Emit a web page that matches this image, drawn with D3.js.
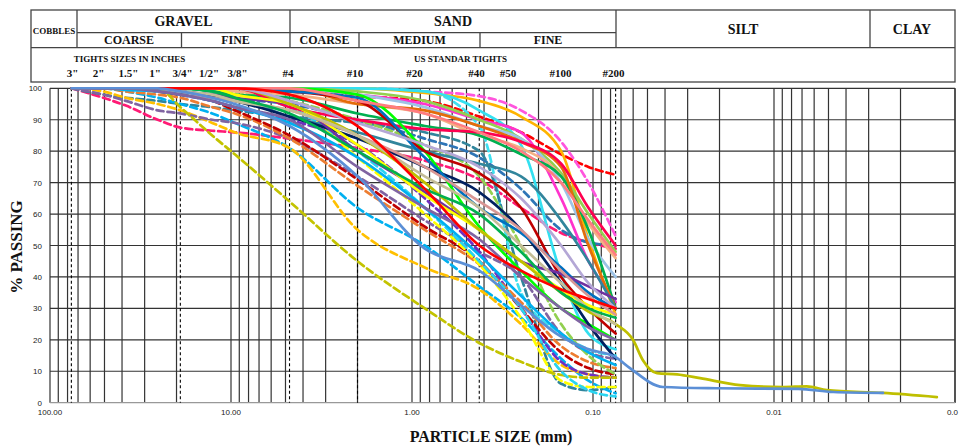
<!DOCTYPE html>
<html>
<head>
<meta charset="utf-8">
<script src="https://cdn.jsdelivr.net/npm/d3@7"></script>
<style>
  body { margin: 0; background: #fff; }
  svg { display: block; }
  .hdr { font-family: "Liberation Serif", "Times New Roman", serif; font-weight: bold; fill: #111; }
  .tick { font-family: "Liberation Sans", Arial, sans-serif; font-size: 8px; fill: #222; }
</style>
</head>
<body>
<svg id="chart" width="959" height="447"></svg>
<script>
// sieve sizes (mm) used for every curve
var sieveSizes = [76.2, 50.8, 38.1, 25.4, 19.05, 12.7, 9.525, 4.75, 2.0, 0.85, 0.425, 0.25, 0.15, 0.106, 0.075];

// % passing for each sample, same order as sieveSizes
var seriesPassing = [
  [100, 97, 94.5, 90, 87.5, 86.5, 86, 84, 81, 77, 71, 62, 54, 51, 49],
  [100, 100, 100, 100, 100, 100, 100, 99, 97.5, 96, 91, 86, 79, 75, 72.5],
  [100, 100, 100, 100, 100, 100, 100, 100, 100, 99, 97.5, 93, 83, 70, 53],
  [100, 100, 100, 100, 100, 100, 100, 100, 100, 99, 88, 35, 22, 17, 15],
  [100, 100, 100, 99, 98, 97, 96.5, 95, 90, 84, 78, 68, 55, 51, 50],
  [100, 98, 97, 96, 95, 94, 93, 91, 89, 86, 80, 40, 6, 4, 5],
  [100, 100, 99, 97, 95, 92, 89, 81, 62, 50, 37, 27, 14, 7, 3],
  [100, 99, 97, 95, 93, 89, 86, 81, 55, 43, 36, 25, 12, 9, 8],
  [100, 98, 96, 93, 92, 90, 89, 84, 72, 58, 48, 40, 22, 16, 14],
  [100, 100, 100, 100, 98, 96, 94, 90, 82, 65, 48, 30, 13, 9, 8],
  [100, 100, 99, 98, 97, 94, 92, 84, 69, 55, 44, 32, 18, 13, 11],
  [100, 100, 100, 99, 98, 96, 93, 85, 71, 56, 45, 30, 16, 11, 9],
  [100, 100, 100, 100, 100, 99, 98, 95, 78, 60, 44, 27, 7, 5, 5],
  [100, 100, 100, 100, 100, 100, 99, 96, 90, 82, 72, 50, 25, 15, 9],
  [100, 100, 100, 100, 94, 85, 79, 64, 45, 30, 19, 13, 8.8, 8, 8],
  [100, 100, 100, 100, 100, 99, 98, 94, 80, 62, 45, 30, 10, 4, 2],
  [100, 100, 100, 100, 100, 100, 100, 100, 100, 98.5, 96, 91, 80, 52, 28],
  [100, 100, 100, 100, 100, 100, 100, 100, 100, 99, 93, 82, 41, 22, 17],
  [100, 100, 100, 100, 100, 100, 100, 100, 98, 95, 90, 86, 65, 45, 32],
  [100, 100, 100, 100, 100, 100, 100, 100, 99, 96, 90, 84, 73, 60, 48],
  [100, 100, 100, 100, 100, 100, 100, 100, 98, 94, 88, 84, 70, 52, 40],
  [100, 100, 100, 100, 100, 100, 99, 98, 95, 92, 85, 81, 72, 57, 46],
  [100, 100, 100, 100, 100, 99, 98, 97, 92, 88, 85, 79, 72, 55, 30],
  [100, 100, 100, 100, 100, 100, 100, 100, 95, 93, 88, 83, 75, 50, 30],
  [100, 100, 100, 100, 100, 100, 100, 94, 90, 87, 86, 83, 76, 62, 50],
  [100, 100, 100, 100, 99, 98, 97, 91, 86, 80, 76, 72, 58, 45, 30],
  [100, 100, 100, 100, 100, 100, 100, 100, 98, 80, 56, 42, 30, 25, 20],
  [100, 100, 100, 100, 100, 100, 100, 99, 96, 80, 73, 62, 40, 30, 22],
  [100, 100, 100, 100, 99, 97.5, 96, 91, 84, 75, 67, 55, 38, 25, 14],
  [100, 100, 100, 100, 100, 100, 100, 99, 97, 78, 62, 54, 43, 35, 30],
  [100, 100, 99.5, 99, 98, 96, 94, 89, 78, 62, 47, 34, 22, 16, 12],
  [100, 100, 100, 100, 99, 98, 97, 95, 80, 67, 55, 45, 41, 37, 33],
  [100, 100, 100, 99, 98, 96, 94, 90, 75, 62, 52, 40, 30, 24, 20],
  [100, 100, 100, 100, 100, 100, 98, 95, 82, 66, 55, 45, 36, 31, 28],
  [100, 100, 100, 100, 100, 100, 100, 95, 85, 70, 55, 45, 35, 29, 25],
  [100, 100, 100, 100, 99, 97, 96, 93, 85, 75, 64, 55, 42, 34, 28],
  [100, 100, 100, 100, 100, 100, 100, 100, 96, 92, 86, 80, 70, 58, 47],
  [100, 100, 100, 100, 100, 100, 100, 96, 89, 82, 75, 65, 50, 38, 30],
  [100, 100, 100, 100, 99, 98, 96, 93, 85, 72, 62, 50, 38, 30, 25],
  [100, 100, 100, 100, 100, 99, 97, 92, 80, 68, 60, 48, 35, 30, 27],
  [100, 100, 100, 100, 100, 100, 100, 98, 88, 68, 50, 42, 36, 33, 30],
  [100, 100, 100, 100, 99, 97, 95, 88, 72, 49, 42, 31, 21, 17, 14.5]
];

var seriesColors = [
  "#ff1a75", "#ff0000", "#ff55dd", "#3ee0f0", "#2e75b6", "#31859c", "#00b0f0", "#ffc000",
  "#8064a2", "#7030c0", "#ed7d31", "#c00000", "#ffff00", "#92d050", "#c3c300", "#2ad4f0",
  "#ffb400", "#33e0f0", "#ff33cc", "#92d050", "#9dc3e6", "#f4b183", "#00b050", "#e46c0a",
  "#ff0050", "#31859c", "#00ff00", "#c00000", "#002060", "#0070c0", "#00b0f0", "#7030a0",
  "#8064a2", "#ffff00", "#bfbf00", "#d99694", "#ff7c80", "#b4a7d6", "#c4bd97", "#00b050",
  "#ff0000", "#5b8fd6"
];

// true = dashed sample curve
var seriesDashed = [
  true, true, true, true, true, true, true, true,
  true, true, true, true, true, true, true, true,
  false, false, false, false, false, false, false, false,
  false, false, false, false, false, false, false, false,
  false, false, false, false, false, false, false, false,
  false, false
];

// hydrometer readings continuing two of the samples
var oliveHydroSizes = [0.0601, 0.0530, 0.0443, 0.0343, 0.0256, 0.0154, 0.0089, 0.0066, 0.0051, 0.0025, 0.00126];
var oliveHydroPass = [20, 13.5, 9.4, 9, 7.8, 5.6, 5, 5.2, 4, 3.1, 1.8];
var blueHydroSizes = [0.0625, 0.0411, 0.0208, 0.0073, 0.0047, 0.0025];
var blueHydroPass = [11, 5, 4.6, 4.4, 3.4, 3.1];

var yTicks = [0, 10, 20, 30, 40, 50, 60, 70, 80, 90, 100];
var xTickValues = [100, 10, 1, 0.1, 0.01, 0.001];
var xTickLabels = ["100.00", "10.00", "1.00", "0.10", "0.01", "0.0"];

// reference sieves drawn as dashed verticals
var refSieves = [76.2, 19.05, 4.75, 2.0, 0.425, 0.075];

var svg = d3.select("#chart");

var x = d3.scaleLog().domain([100, 0.001]).range([50, 955]);
var y = d3.scaleLinear().domain([0, 100]).range([402.7, 88.3]);

// ---------- grid ----------
var grid = svg.append("g");
var minor = [];
[100, 10, 1, 0.1, 0.01].forEach(function(dec) {
  for (var k = 1; k <= 9; k++) minor.push(dec / 10 * k);
});
minor.push(100);
grid.selectAll("line.v").data(minor).enter().append("line")
  .attr("x1", function(d) { return x(d); }).attr("x2", function(d) { return x(d); })
  .attr("y1", y(100)).attr("y2", y(0))
  .attr("stroke", "#333").attr("stroke-width", 1.2);
grid.append("line").attr("x1", 955).attr("x2", 955).attr("y1", y(100)).attr("y2", y(0))
  .attr("stroke", "#333").attr("stroke-width", 1.2);
grid.selectAll("line.h").data(yTicks).enter().append("line")
  .attr("x1", 50).attr("x2", 955)
  .attr("y1", function(d) { return y(d); }).attr("y2", function(d) { return y(d); })
  .attr("stroke", function(d) { return d == 0 ? "#999" : "#333"; })
  .attr("stroke-width", 1.2);
grid.selectAll("line.r").data(refSieves).enter().append("line")
  .attr("x1", function(d) { return x(d); }).attr("x2", function(d) { return x(d); })
  .attr("y1", y(100)).attr("y2", y(0))
  .attr("stroke", "#000").attr("stroke-width", 1.1).attr("stroke-dasharray", "3,2.5");

// ---------- curves ----------
var line = d3.line()
  .x(function(d) { return x(d[0]); })
  .y(function(d) { return y(d[1]); })
  .curve(d3.curveMonotoneX);

svg.append("clipPath").attr("id", "plotclip").append("rect")
  .attr("x", 50).attr("y", 86).attr("width", 905).attr("height", 318);

var curves = svg.append("g").attr("clip-path", "url(#plotclip)");

function pts(sizes, vals) {
  return sizes.map(function(s, i) { return [s, vals[i]]; });
}

var hydroOlive = pts(sieveSizes, seriesPassing[34]).concat(pts(oliveHydroSizes, oliveHydroPass));
var hydroBlue = pts(sieveSizes, seriesPassing[41]).concat(pts(blueHydroSizes, blueHydroPass));

seriesPassing.forEach(function(vals, i) {
  var data = pts(sieveSizes, vals);
  if (i == 34) data = hydroOlive;
  if (i == 41) data = hydroBlue;
  curves.append("path")
    .attr("d", line(data))
    .attr("fill", "none")
    .attr("stroke", seriesColors[i])
    .attr("stroke-width", 2.7)
    .attr("stroke-linecap", "round")
    .attr("stroke-dasharray", seriesDashed[i] ? "7,4" : null);
});

// ---------- axes labels ----------
svg.selectAll("text.yt").data(yTicks).enter().append("text")
  .attr("class", "tick")
  .attr("x", 42).attr("y", function(d) { return y(d) + 3; })
  .attr("text-anchor", "end")
  .text(function(d) { return d; });

svg.selectAll("text.xt").data(xTickValues).enter().append("text")
  .attr("class", "tick")
  .attr("x", function(d, i) { return i == 5 ? 958 : x(d); }).attr("y", 415)
  .attr("text-anchor", function(d, i) { return i == 5 ? "end" : "middle"; })
  .text(function(d, i) { return xTickLabels[i]; });

svg.append("text").attr("class", "hdr")
  .attr("x", 491).attr("y", 442).attr("text-anchor", "middle")
  .style("font-size", "16px").text("PARTICLE SIZE (mm)");

svg.append("text").attr("class", "hdr")
  .attr("transform", "translate(22,247) rotate(-90)").attr("text-anchor", "middle")
  .style("font-size", "17px").text("% PASSING");

// ---------- classification header ----------
var hdr = svg.append("g").attr("stroke", "#444").attr("stroke-width", 1.3).attr("fill", "none");
hdr.append("rect").attr("x", 31).attr("y", 10).attr("width", 924).attr("height", 72);
var hLines = [[77, 616, 32.7], [31, 955, 47.7]];
hLines.forEach(function(l) {
  hdr.append("line").attr("x1", l[0]).attr("x2", l[1]).attr("y1", l[2]).attr("y2", l[2]);
});
var vLines = [[77, 10, 47.7], [290, 10, 47.7], [616, 10, 47.7], [870, 10, 47.7],
              [181.5, 32.7, 47.7], [359, 32.7, 47.7], [480, 32.7, 47.7]];
vLines.forEach(function(l) {
  hdr.append("line").attr("x1", l[0]).attr("x2", l[0]).attr("y1", l[1]).attr("y2", l[2]);
});

function label(txt, cx, by, size) {
  svg.append("text").attr("class", "hdr").attr("x", cx).attr("y", by)
    .attr("text-anchor", "middle").style("font-size", size + "px").text(txt);
}
label("COBBLES", 54, 34, 9);
label("GRAVEL", 183.5, 26, 14);
label("SAND", 453, 26, 14);
label("SILT", 743, 34, 14);
label("CLAY", 912, 34, 14);
label("COARSE", 129, 44, 12);
label("FINE", 235.5, 44, 12);
label("COARSE", 324.5, 44, 12);
label("MEDIUM", 419.5, 44, 12);
label("FINE", 548, 44, 12);
label("TIGHTS SIZES IN INCHES", 129.5, 62, 9);
label("US STANDAR TIGHTS", 460.5, 62, 9);

var sieveNames = ['3"', '2"', '1.5"', '1"', '3/4"', '1/2"', '3/8"', '#4', '#10', '#20', '#40', '#50', '#100', '#200'];
var sieveLabelX = [72.5, 98.5, 128.5, 155, 182.5, 209, 237.5, 288, 355, 414.5, 476.5, 508, 560.5, 613.5];
sieveNames.forEach(function(n, i) { label(n, sieveLabelX[i], 77, 11); });
</script>
</body>
</html>
